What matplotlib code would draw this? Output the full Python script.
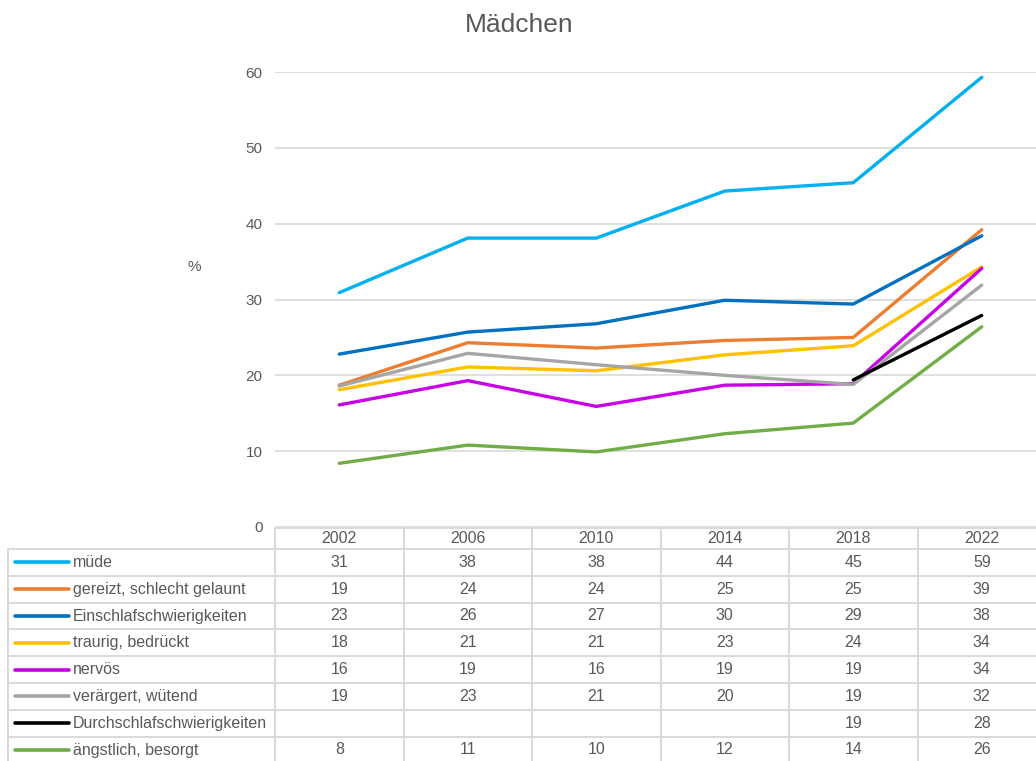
import matplotlib
matplotlib.use("Agg")
import matplotlib.pyplot as plt

plt.rcParams['font.family'] = ['Liberation Sans', 'DejaVu Sans']

# data (table shows the rounded values)
years = ['2002', '2006', '2010', '2014', '2018', '2022']
series = ['müde', 'gereizt, schlecht gelaunt', 'Einschlafschwierigkeiten',
          'traurig, bedrückt', 'nervös', 'verärgert, wütend',
          'Durchschlafschwierigkeiten', 'ängstlich, besorgt']
muede = [30.9, 38.1, 38.1, 44.3, 45.4, 59.3]
gereizt = [18.7, 24.3, 23.6, 24.6, 25.0, 39.2]
einschlaf = [22.8, 25.7, 26.8, 29.9, 29.4, 38.4]
traurig = [18.1, 21.1, 20.6, 22.7, 23.9, 34.3]
nervoes = [16.1, 19.3, 15.9, 18.7, 18.9, 34.1]
veraergert = [18.6, 22.9, 21.4, 20.0, 18.8, 31.9]
durchschlaf = [None, None, None, None, 19.4, 27.9]
aengstlich = [8.4, 10.8, 9.9, 12.3, 13.7, 26.4]
values = [muede, gereizt, einschlaf, traurig, nervoes, veraergert,
          durchschlaf, aengstlich]
colors = ['#00B0F0', '#ED7D31', '#0070C0', '#FFC000', '#C800E8',
          '#A5A5A5', '#000000', '#70AD47']

W, H = 1036, 761
TXT = '#595959'
GRID = '#D9D9D9'

fig = plt.figure(figsize=(W / 100, H / 100), dpi=100)

# plot area in pixel terms (right edge runs past the image like the original)
px_left, px_right = 275, 1046
px_top, px_bottom = 72, 527
ax = fig.add_axes([px_left / W, 1 - px_bottom / H,
                   (px_right - px_left) / W, (px_bottom - px_top) / H])
x = list(range(len(years)))
for vals, c in zip(values, colors):
    xs = [i for i, v in zip(x, vals) if v is not None]
    ys = [v for v in vals if v is not None]
    ax.plot(xs, ys, color=c, lw=2.4, solid_capstyle='round',
            solid_joinstyle='round', zorder=3)
ax.set_xlim(-0.5, len(years) - 0.5)
ax.set_ylim(0, 60)
ax.set_yticks(range(0, 61, 10))
ax.yaxis.grid(True, color=GRID, lw=1.2)
ax.set_axisbelow(True)
for s in ax.spines.values():
    s.set_visible(False)
ax.tick_params(axis='y', length=0, pad=9, labelsize=11, labelcolor=TXT)
ax.tick_params(axis='x', length=0, labelbottom=False)

fig.text(519.5 / W, 1 - 25 / H, 'Mädchen', ha='center', va='center',
         fontsize=19, color=TXT)
fig.text(194 / W, 1 - 267 / H, '%', ha='center', va='center',
         fontsize=11, color=TXT)

# data table below the plot, sharing the x positions
nrows = len(series)
row_h = 26.8
tb_top = 527.5
tb_bottom = 549 + nrows * row_h
head = -(549 - tb_top) / row_h
tab = fig.add_axes([px_left / W, 1 - tb_bottom / H,
                    (px_right - px_left) / W, (tb_bottom - tb_top) / H])
tab.set_xlim(-0.5, len(years) - 0.5)
tab.set_ylim(nrows, head)
tab.axis('off')
col_w = (px_right - px_left) / len(years)
lab_left = -0.5 - (px_left - 8) / col_w
key0 = -0.5 - (px_left - 15) / col_w
key1 = -0.5 - (px_left - 69) / col_w
lab_x = -0.5 - (px_left - 73) / col_w

lkw = dict(color=GRID, lw=1.4, clip_on=False, zorder=1)
# horizontal rules
tab.plot([-0.5, len(years) - 0.5], [head, head], **lkw)
for r in range(nrows + 1):
    tab.plot([lab_left, len(years) - 0.5], [r, r], **lkw)
# vertical rules
tab.plot([lab_left, lab_left], [0, nrows], **lkw)
for i in range(len(years)):
    tab.plot([i - 0.5, i - 0.5], [head, nrows], **lkw)

fs = 11.5
for i, yr in enumerate(years):
    tab.text(i, head / 2, yr, ha='center', va='center', fontsize=fs,
             color=TXT, clip_on=False)
for r, (name, vals, c) in enumerate(zip(series, values, colors)):
    yc = r + 0.5
    tab.plot([key0, key1], [yc, yc], color=c, lw=2.6,
             solid_capstyle='round', clip_on=False, zorder=2)
    tab.text(lab_x, yc, name, ha='left', va='center', fontsize=fs,
             color=TXT, clip_on=False)
    for i, v in enumerate(vals):
        if v is not None:
            tab.text(i, yc, f'{v:.0f}', ha='center', va='center',
                     fontsize=fs, color=TXT, clip_on=False)

fig.savefig('out.png', dpi=100)
